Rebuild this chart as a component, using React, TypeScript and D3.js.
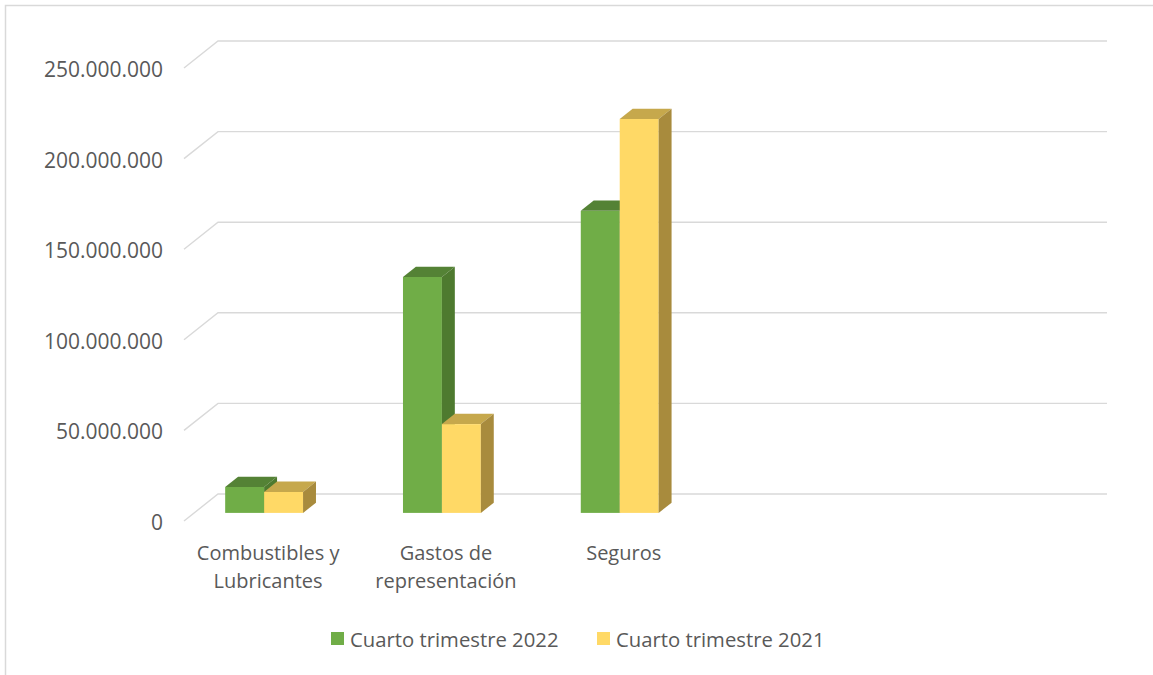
import React, { useEffect, useRef } from 'react';
import * as d3 from 'd3';

const categories = ['Combustibles y|Lubricantes', 'Gastos de|representación', 'Seguros', '', ''];
const series2022 = [14300000, 130200000, 166700000];
const series2021 = [11600000, 49000000, 217400000];
const seriesNames = ['Cuarto trimestre 2022', 'Cuarto trimestre 2021'];
const yTicks = [0, 50000000, 100000000, 150000000, 200000000, 250000000];

const App: React.FC = () => {
  const svgRef = useRef<SVGSVGElement>(null);

  useEffect(() => {
    if (!svgRef.current) return;
    const svg = d3.select(svgRef.current);
    svg.selectAll('*').remove();

    const width = 1153;
    const height = 675;
    const font = '"Open Sans", "Noto Sans", sans-serif';
    const textColor = '#595959';
    const gridColor = '#D9D9D9';

    // 3D wall offsets (front plane -> back wall)
    const depthX = 34;
    const depthY = -27;
    // bars sit in the middle of the depth
    const barFrac = 0.3;
    const barDepth = 0.38;

    const colors = [
      { front: '#70AD47', top: '#548235', side: '#4E7A2F' },
      { front: '#FFD966', top: '#C6A84C', side: '#A88B3D' },
    ];

    const x = d3
      .scaleBand<number>()
      .domain(categories.map((_, i) => i))
      .range([184, 1073])
      .paddingInner(0.562)
      .paddingOuter(0.281)
      .align(0.31);

    const y = d3.scaleLinear().domain([0, 250000000]).range([521, 68]);

    svg.attr('width', width).attr('height', height);

    // chart border
    svg
      .append('rect')
      .attr('x', 5.5)
      .attr('y', 5.5)
      .attr('width', width + 20)
      .attr('height', height + 20)
      .attr('fill', '#fff')
      .attr('stroke', gridColor)
      .attr('stroke-width', 1.5);

    // gridlines on floor edge + back wall
    const grid = svg.append('g');
    yTicks.forEach((t) => {
      const fy = y(t);
      grid
        .append('path')
        .attr(
          'd',
          `M${x.range()[0]},${fy}L${x.range()[0] + depthX},${fy + depthY}L${x.range()[1] + depthX},${fy + depthY}`
        )
        .attr('fill', 'none')
        .attr('stroke', gridColor)
        .attr('stroke-width', 1.4);
    });

    // y axis labels
    const fmt = (v: number) => d3.format(',')(v).replace(/,/g, '.');
    svg
      .append('g')
      .selectAll('text')
      .data(yTicks)
      .join('text')
      .attr('x', 163)
      .attr('y', (d) => y(d) + 1)
      .attr('text-anchor', 'end')
      .attr('dominant-baseline', 'central')
      .attr('font-family', font)
      .attr('font-size', 21)
      .attr('fill', textColor)
      .text((d) => fmt(d));

    // bars
    const bw = x.bandwidth() / 2;
    const offX = depthX * barFrac;
    const offY = depthY * barFrac;
    const bdx = depthX * barDepth;
    const bdy = depthY * barDepth;
    const bars = svg.append('g');
    [series2022, series2021].forEach((vals, j) => {
      vals.forEach((v, i) => {
        const x0 = (x(i) ?? 0) + offX + j * bw;
        const base = y(0) + offY;
        const top = y(v) + offY;
        const c = colors[j];
        bars
          .append('rect')
          .attr('x', x0)
          .attr('y', top)
          .attr('width', bw)
          .attr('height', base - top)
          .attr('fill', c.front);
        bars
          .append('path')
          .attr('d', `M${x0},${top}L${x0 + bdx},${top + bdy}L${x0 + bw + bdx},${top + bdy}L${x0 + bw},${top}Z`)
          .attr('fill', c.top);
        bars
          .append('path')
          .attr(
            'd',
            `M${x0 + bw},${top}L${x0 + bw + bdx},${top + bdy}L${x0 + bw + bdx},${base + bdy}L${x0 + bw},${base}Z`
          )
          .attr('fill', c.side);
      });
    });

    // category labels
    const cat = svg.append('g');
    categories.forEach((name, i) => {
      if (!name) return;
      const cx = (x(i) ?? 0) + offX + x.bandwidth() / 2 + 4;
      const lines = name.split('|');
      const t = cat
        .append('text')
        .attr('text-anchor', 'middle')
        .attr('font-family', font)
        .attr('font-size', 20)
        .attr('fill', textColor);
      lines.forEach((l, k) => {
        t.append('tspan')
          .attr('x', cx)
          .attr('y', 560 + k * 28)
          .text(l);
      });
    });

    // legend
    const legend = svg.append('g');
    const legendX = [331, 597];
    seriesNames.forEach((s, j) => {
      legend
        .append('rect')
        .attr('x', legendX[j])
        .attr('y', 632)
        .attr('width', 13)
        .attr('height', 13)
        .attr('fill', colors[j].front);
      legend
        .append('text')
        .attr('x', legendX[j] + 19)
        .attr('y', 639)
        .attr('dominant-baseline', 'central')
        .attr('font-family', font)
        .attr('font-size', 20.3)
        .attr('fill', textColor)
        .text(s);
    });
  }, []);

  return (
    <div style={{ position: 'absolute', left: 0, top: 0 }}>
      <svg ref={svgRef} style={{ display: 'block' }}></svg>
    </div>
  );
};

export default App;
